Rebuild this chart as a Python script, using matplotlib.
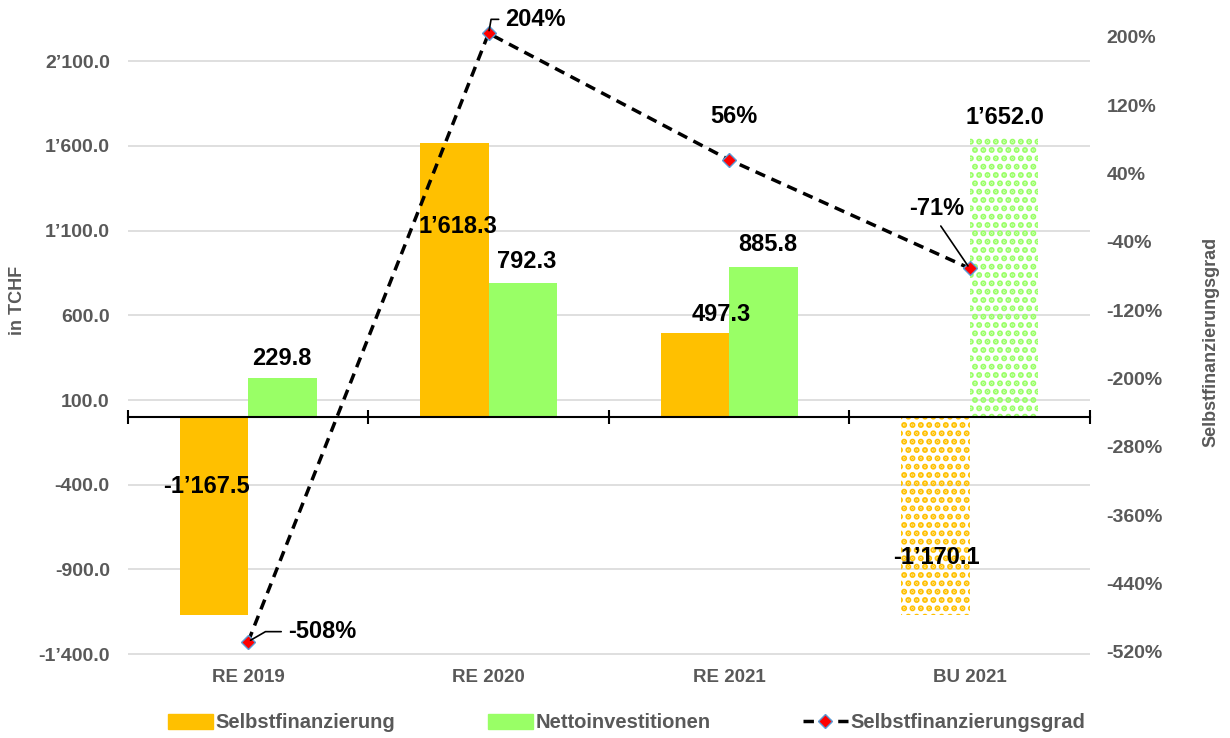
import matplotlib
matplotlib.use("Agg")
import matplotlib.pyplot as plt
import numpy as np
from matplotlib.patches import Patch
from matplotlib.lines import Line2D
from matplotlib.ticker import FuncFormatter

plt.rcParams['font.family'] = ['Liberation Sans', 'DejaVu Sans']
plt.rcParams['font.weight'] = 'bold'
plt.rcParams['hatch.linewidth'] = 3.0

# data
categories = ["RE 2019", "RE 2020", "RE 2021", "BU 2021"]
selbstfinanzierung = [-1167.5, 1618.3, 497.3, -1170.1]
nettoinvestitionen = [229.8, 792.3, 885.8, 1652.0]
selbstfinanzierungsgrad = [-508, 204, 56, -71]

# label offsets in pixels (manually placed in the original)
off_sf = [(-7, 128), (4, -84), (26, 18), (1, 58)]
off_ni = [(-1, 20), (4, 21), (4, 22), (1, 20)]

orange = "#FFC000"
green = "#99FF66"
grey = "#595959"

def chf(v):
    return f"{v:,.1f}".replace(",", "\u2019")

fig = plt.figure(figsize=(12.3, 7.38), dpi=100)
ax = fig.add_axes([0.104, 0.1125, 0.782, 0.862])
ax2 = ax.twinx()

x = np.arange(len(categories))
w = 0.285
b1 = ax.bar(x - w / 2, selbstfinanzierung, w, color=orange, zorder=2)
b2 = ax.bar(x + w / 2, nettoinvestitionen, w, color=green, zorder=2)

# budget bars get the dotted pattern
for bars, col in ((b1, orange), (b2, green)):
    p = bars[-1]
    p.set_facecolor("none")
    p.set_edgecolor(col)
    p.set_linewidth(0)
    p.set_hatch("..")

for i, v in enumerate(selbstfinanzierung):
    ax.annotate(chf(v), (x[i] - w / 2, v), xytext=off_sf[i], textcoords="offset pixels",
                ha="center", va="center", fontsize=17, fontweight="bold", zorder=5)
for i, v in enumerate(nettoinvestitionen):
    ax.annotate(chf(v), (x[i] + w / 2, v), xytext=off_ni[i], textcoords="offset pixels",
                ha="center", va="center", fontsize=17, fontweight="bold", zorder=5)

ax.set_xlim(-0.5, 3.5)
ax.set_ylim(-1405, 2350)
ax.set_yticks(np.arange(-1400, 2101, 500))
ax.yaxis.set_major_formatter(FuncFormatter(lambda v, p: chf(v)))
ax.grid(axis="y", color="#D9D9D9", lw=1.2, zorder=0)
ax.set_axisbelow(True)
ax.tick_params(axis="y", length=0, pad=13, labelsize=14, labelcolor=grey)

for s in ["top", "left", "right"]:
    ax.spines[s].set_visible(False)
ax.spines["bottom"].set_position(("data", 0))
ax.spines["bottom"].set_linewidth(1.5)
ax.spines["bottom"].set_zorder(3)
ax.set_xticks([])
ax.set_xticks(np.arange(-0.5, 3.6, 1), minor=True)
ax.tick_params(axis="x", which="minor", direction="inout", length=10, width=1.5, labelbottom=False)

sec = ax.secondary_xaxis("bottom")
sec.set_xticks(x, categories)
sec.spines["bottom"].set_visible(False)
sec.tick_params(length=0, pad=10, labelsize=13.5, labelcolor=grey)

# percent line
ax2.plot(x, selbstfinanzierungsgrad, color="black", ls=(0, (3, 2)), lw=2.5,
         marker="D", ms=7, mfc="red", mec="#5B9BD5", mew=1, zorder=4)
ax2.set_ylim(-523.6, 221)
ax2.set_yticks(np.arange(-520, 201, 80))
ax2.yaxis.set_major_formatter(FuncFormatter(lambda v, p: f"{v:.0f}%"))
ax2.tick_params(axis="y", length=0, pad=12, labelsize=14, labelcolor=grey)
for s in ax2.spines.values():
    s.set_visible(False)

pct_lbl = [
    dict(xytext=(40, 10), ha="left", conn="angle,angleA=0,angleB=30,rad=0"),
    dict(xytext=(17, 14), ha="left", conn="angle,angleA=0,angleB=80,rad=0"),
    dict(xytext=(5, 43), ha="center", conn=None),
    dict(xytext=(-33, 60), ha="center", conn="arc3"),
]
for i, v in enumerate(selbstfinanzierungsgrad):
    o = pct_lbl[i]
    ap = None
    if o["conn"]:
        ap = dict(arrowstyle="-", color="black", lw=1.2, connectionstyle=o["conn"],
                  shrinkA=3, shrinkB=2, relpos=(0, 0.5) if o["ha"] == "left" else (0.5, 0))
    ax2.annotate(f"{v}%", (x[i], v), xytext=o["xytext"], textcoords="offset pixels",
                 ha=o["ha"], va="center", fontsize=17, fontweight="bold",
                 arrowprops=ap, zorder=6)

fig.text(18 / 1230, 1 - 300 / 738, "in TCHF", rotation=90, ha="center", va="center",
         fontsize=13, color=grey, fontweight="bold")
fig.text(1211 / 1230, 1 - 342 / 738, "Selbstfinanzierungsgrad", rotation=90, ha="center",
         va="center", fontsize=13, color=grey, fontweight="bold")

handles = [Patch(color=orange), Patch(color=green),
           Line2D([], [], color="black", ls=(0, (3, 2)), lw=2.5, marker="D", ms=7,
                  mfc="red", mec="#5B9BD5")]
leg = fig.legend(handles, ["Selbstfinanzierung", "Nettoinvestitionen", "Selbstfinanzierungsgrad"],
                 loc="center", bbox_to_anchor=(627 / 1230, 1 - 723 / 738), ncol=3, frameon=False,
                 handlelength=2.2, handletextpad=0.15, columnspacing=4.6, fontsize=14.5)
for t in leg.get_texts():
    t.set_color(grey)

fig.savefig("out.png", dpi=100)
